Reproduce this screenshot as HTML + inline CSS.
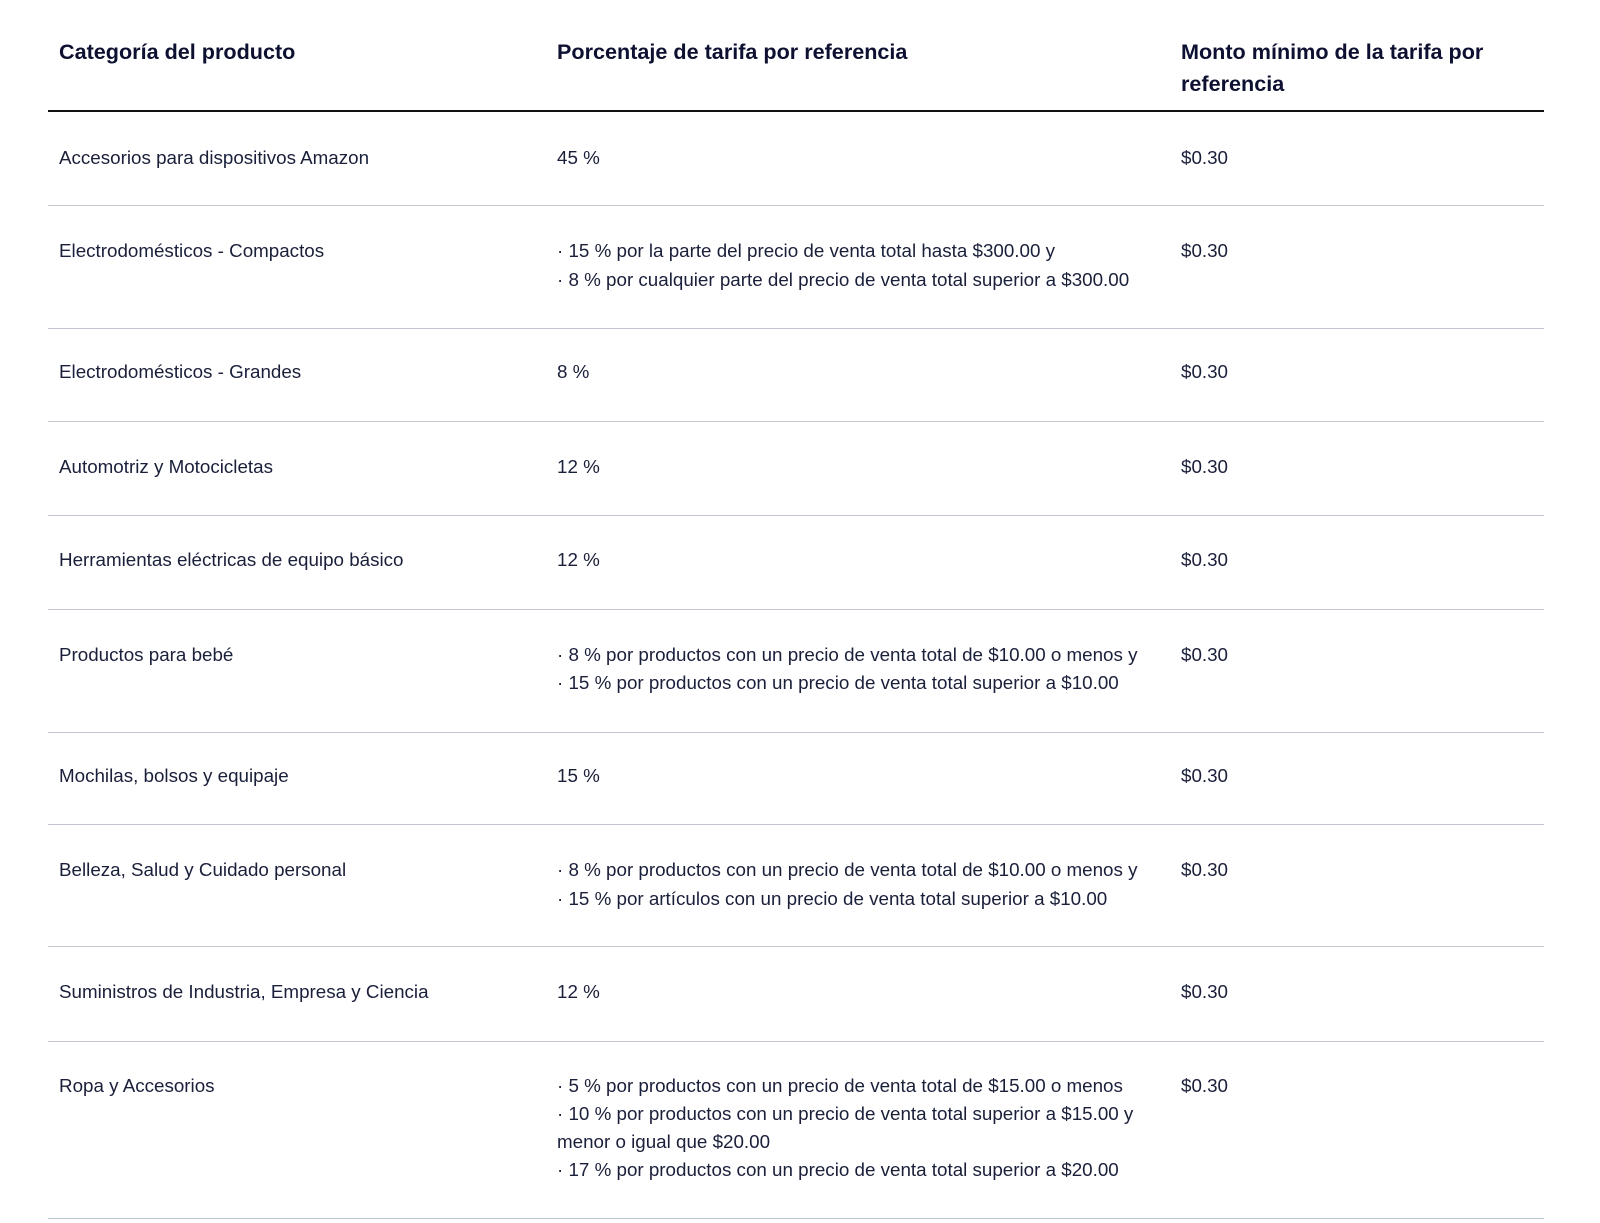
<!DOCTYPE html>
<html><head><meta charset="utf-8"><style>
body{margin:0;width:1600px;height:1223px;background:#fff;position:relative;font-family:"Liberation Sans",sans-serif;color:#1a1f3a;overflow:hidden}
.t{position:absolute;font-size:18.8px;line-height:28.5px;white-space:nowrap}
.h{position:absolute;font-size:21.6px;font-weight:bold;line-height:32px;color:#0d1030}
.l{position:absolute;left:48px;width:1496px;height:1px;background:#c3c6cf}
</style></head><body>
<div class="h" style="left:59px;top:36px">Categoría del producto</div>
<div class="h" style="left:557px;top:36px">Porcentaje de tarifa por referencia</div>
<div class="h" style="left:1181px;top:36px">Monto mínimo de la tarifa por<br>referencia</div>
<div class="l" style="top:110px;height:2px;background:#111"></div>

<div class="t" style="left:59px;top:144px">Accesorios para dispositivos Amazon</div>
<div class="t" style="left:557px;top:144px">45 %</div>
<div class="t" style="left:1181px;top:144px">$0.30</div>
<div class="l" style="top:205px"></div>

<div class="t" style="left:59px;top:237px">Electrodomésticos - Compactos</div>
<div class="t" style="left:557px;top:237px">· 15 % por la parte del precio de venta total hasta $300.00 y<br>· 8 % por cualquier parte del precio de venta total superior a $300.00</div>
<div class="t" style="left:1181px;top:237px">$0.30</div>
<div class="l" style="top:328px"></div>

<div class="t" style="left:59px;top:358px">Electrodomésticos - Grandes</div>
<div class="t" style="left:557px;top:358px">8 %</div>
<div class="t" style="left:1181px;top:358px">$0.30</div>
<div class="l" style="top:421px"></div>

<div class="t" style="left:59px;top:453px">Automotriz y Motocicletas</div>
<div class="t" style="left:557px;top:453px">12 %</div>
<div class="t" style="left:1181px;top:453px">$0.30</div>
<div class="l" style="top:515px"></div>

<div class="t" style="left:59px;top:546px">Herramientas eléctricas de equipo básico</div>
<div class="t" style="left:557px;top:546px">12 %</div>
<div class="t" style="left:1181px;top:546px">$0.30</div>
<div class="l" style="top:609px"></div>

<div class="t" style="left:59px;top:641px">Productos para bebé</div>
<div class="t" style="left:557px;top:641px;line-height:27.5px">· 8 % por productos con un precio de venta total de $10.00 o menos y<br>· 15 % por productos con un precio de venta total superior a $10.00</div>
<div class="t" style="left:1181px;top:641px">$0.30</div>
<div class="l" style="top:732px"></div>

<div class="t" style="left:59px;top:762px">Mochilas, bolsos y equipaje</div>
<div class="t" style="left:557px;top:762px">15 %</div>
<div class="t" style="left:1181px;top:762px">$0.30</div>
<div class="l" style="top:824px"></div>

<div class="t" style="left:59px;top:856px">Belleza, Salud y Cuidado personal</div>
<div class="t" style="left:557px;top:856px">· 8 % por productos con un precio de venta total de $10.00 o menos y<br>· 15 % por artículos con un precio de venta total superior a $10.00</div>
<div class="t" style="left:1181px;top:856px">$0.30</div>
<div class="l" style="top:946px"></div>

<div class="t" style="left:59px;top:978px">Suministros de Industria, Empresa y Ciencia</div>
<div class="t" style="left:557px;top:978px">12 %</div>
<div class="t" style="left:1181px;top:978px">$0.30</div>
<div class="l" style="top:1041px"></div>

<div class="t" style="left:59px;top:1072px">Ropa y Accesorios</div>
<div class="t" style="left:557px;top:1072px;line-height:28px">· 5 % por productos con un precio de venta total de $15.00 o menos<br>· 10 % por productos con un precio de venta total superior a $15.00 y<br>menor o igual que $20.00<br>· 17 % por productos con un precio de venta total superior a $20.00</div>
<div class="t" style="left:1181px;top:1072px">$0.30</div>
<div class="l" style="top:1218px"></div>
</body></html>
